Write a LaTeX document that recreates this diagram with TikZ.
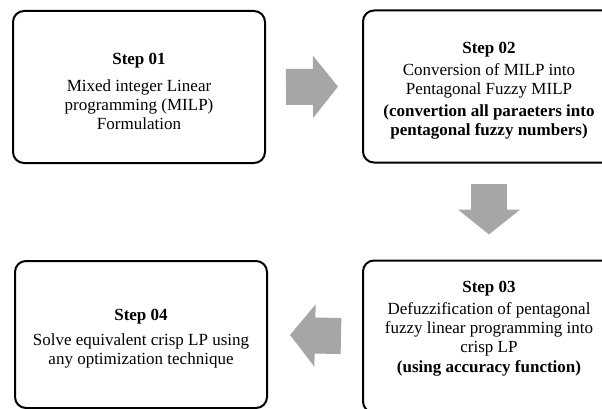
\documentclass[tikz,border=0pt]{standalone}
\usepackage{fontspec}
\setmainfont{Liberation Serif}
\usetikzlibrary{arrows.meta}
\definecolor{arrowgray}{RGB}{166,166,166}
\tikzstyle{stepbox} = [draw, line width=2pt, rounded corners=11pt, align=center, minimum width=252pt, minimum height=152pt, font=\fontsize{17}{19}\selectfont]
\tikzstyle{fat} = [draw=arrowgray, line width=36pt, -{Triangle[length=25pt, width=61pt]}]
\newcommand{\stepbox}[3]{
node (s#1) [stepbox, #2] {\mbox{}\\[1pt]#3}}
\newcommand{\fatarrow}[4]{
  \path [fat, shorten <=#3, shorten >=#4] (#1) -- (#2);}

\begin{document}
\begin{tikzpicture}[x=1pt, y=1pt]
		\useasboundingbox (0,0) rectangle (602,-409);

		% Draw the four steps
		\path (0,0)+(139,-87) \stepbox{1}{}{\textbf{Step 01}\\[8pt]Mixed integer Linear\\programming (MILP)\\Formulation};
		\path (s1.east)+(223,0.5) \stepbox{2}{}{\textbf{Step 02}\\[3pt]Conversion of MILP into\\Pentagonal Fuzzy MILP\\[3pt]\textbf{(convertion all paraeters into}\\\textbf{pentagonal fuzzy numbers)}};
		\path (s2.south)+(0,-173) \stepbox{3}{}{\textbf{Step 03}\\[3pt]Defuzzification of pentagonal\\fuzzy linear programming into\\crisp LP\\[1pt]\textbf{(using accuracy function)}\\[9pt]\mbox{}};
		\path (s3.west)+(-221,2) \stepbox{4}{minimum height=147pt}{\textbf{Step 04}\\[6pt]Solve equivalent crisp LP using\\any optimization technique};

		% Draw arrows between steps
		\fatarrow{s1.east}{s2.west}{20pt}{24pt}
		\fatarrow{s2}{s3}{20pt}{25pt}
		\fatarrow{s3.west}{s4.east}{21pt}{22pt}

	\end{tikzpicture}
\end{document}
